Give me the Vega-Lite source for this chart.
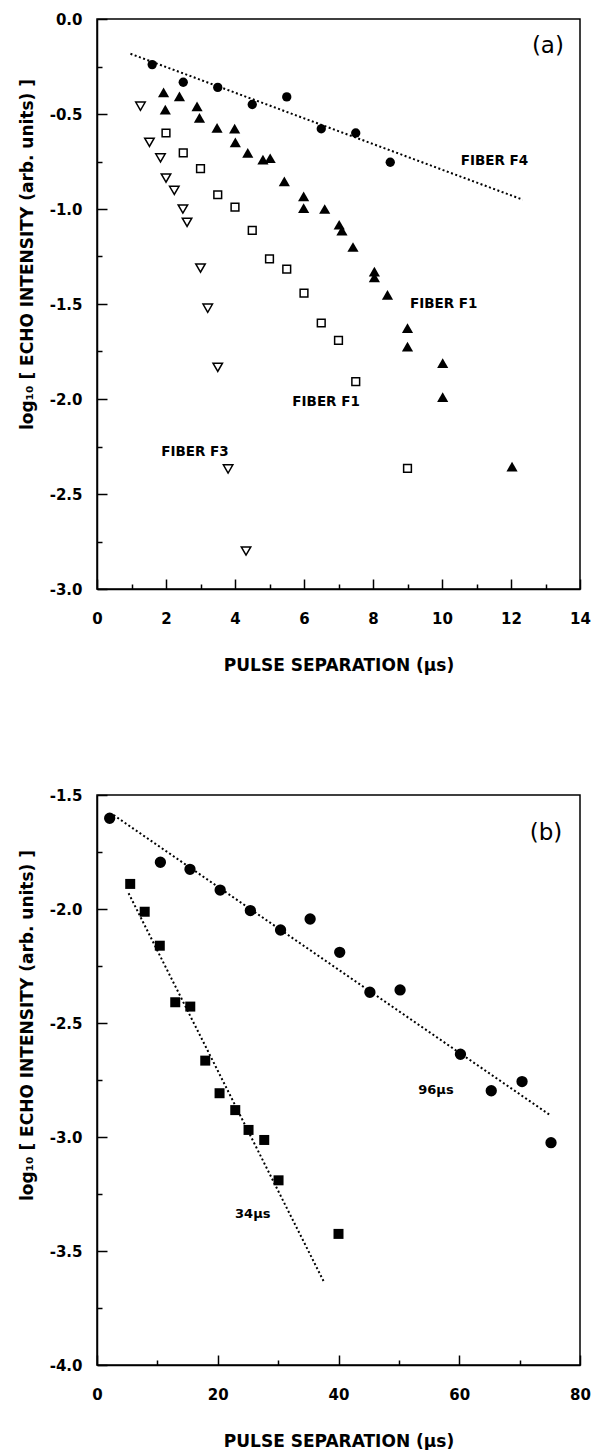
{
  "$schema": "https://vega.github.io/schema/vega-lite/v6.json",
  "padding": {"left": 17, "top": 11, "right": 0, "bottom": 0},
  "spacing": 113,
  "background": "white",
  "config": {
    "view": {"stroke": "black", "strokeWidth": 1.5},
    "axis": {
      "grid": false,
      "domainColor": "black",
      "domainWidth": 1.5,
      "tickColor": "black",
      "tickWidth": 1.5,
      "labelFont": "DejaVu Sans",
      "labelFontWeight": "bold",
      "labelFontSize": 15,
      "labelColor": "black",
      "titleFont": "DejaVu Sans",
      "titleFontWeight": "bold",
      "titleFontSize": 17,
      "titleColor": "black",
      "labelFlush": false,
      "labelOverlap": false,
      "labelBound": false
    },
    "text": {"font": "DejaVu Sans", "color": "black"}
  },
  "datasets": {
    "a": [
      {"series": "F4", "x": 1.6, "y": -0.24},
      {"series": "F4", "x": 2.5, "y": -0.333},
      {"series": "F4", "x": 3.5, "y": -0.36},
      {"series": "F4", "x": 4.5, "y": -0.45},
      {"series": "F4", "x": 5.5, "y": -0.41},
      {"series": "F4", "x": 6.5, "y": -0.578},
      {"series": "F4", "x": 7.5, "y": -0.6},
      {"series": "F4", "x": 8.5, "y": -0.754},
      {"series": "F4fit", "x": 0.97, "y": -0.183},
      {"series": "F4fit", "x": 12.34, "y": -0.951},
      {"series": "F1tri", "x": 1.93, "y": -0.386},
      {"series": "F1tri", "x": 1.98, "y": -0.477},
      {"series": "F1tri", "x": 2.39, "y": -0.407},
      {"series": "F1tri", "x": 2.9, "y": -0.46},
      {"series": "F1tri", "x": 2.97, "y": -0.52},
      {"series": "F1tri", "x": 3.48, "y": -0.573},
      {"series": "F1tri", "x": 3.99, "y": -0.577},
      {"series": "F1tri", "x": 4.01, "y": -0.649},
      {"series": "F1tri", "x": 4.37, "y": -0.705},
      {"series": "F1tri", "x": 4.81, "y": -0.74},
      {"series": "F1tri", "x": 5.02, "y": -0.733},
      {"series": "F1tri", "x": 5.43, "y": -0.855},
      {"series": "F1tri", "x": 5.99, "y": -0.934},
      {"series": "F1tri", "x": 5.99, "y": -0.995},
      {"series": "F1tri", "x": 6.6, "y": -1.0},
      {"series": "F1tri", "x": 7.02, "y": -1.083},
      {"series": "F1tri", "x": 7.1, "y": -1.114},
      {"series": "F1tri", "x": 7.42, "y": -1.2},
      {"series": "F1tri", "x": 8.04, "y": -1.33},
      {"series": "F1tri", "x": 8.04, "y": -1.36},
      {"series": "F1tri", "x": 8.42, "y": -1.452},
      {"series": "F1tri", "x": 9.0, "y": -1.627},
      {"series": "F1tri", "x": 9.0, "y": -1.724},
      {"series": "F1tri", "x": 10.02, "y": -1.811},
      {"series": "F1tri", "x": 10.02, "y": -1.99},
      {"series": "F1tri", "x": 12.03, "y": -2.356},
      {"series": "F1sq", "x": 2.0, "y": -0.6},
      {"series": "F1sq", "x": 2.5, "y": -0.705},
      {"series": "F1sq", "x": 3.0, "y": -0.788},
      {"series": "F1sq", "x": 3.5, "y": -0.925},
      {"series": "F1sq", "x": 4.0, "y": -0.99},
      {"series": "F1sq", "x": 4.5, "y": -1.113},
      {"series": "F1sq", "x": 5.0, "y": -1.262},
      {"series": "F1sq", "x": 5.5, "y": -1.316},
      {"series": "F1sq", "x": 6.0, "y": -1.443},
      {"series": "F1sq", "x": 6.5, "y": -1.6},
      {"series": "F1sq", "x": 7.0, "y": -1.692},
      {"series": "F1sq", "x": 7.5, "y": -1.908},
      {"series": "F1sq", "x": 9.0, "y": -2.365},
      {"series": "F3", "x": 1.26, "y": -0.459},
      {"series": "F3", "x": 1.52, "y": -0.649},
      {"series": "F3", "x": 1.84, "y": -0.731},
      {"series": "F3", "x": 2.0, "y": -0.837},
      {"series": "F3", "x": 2.24, "y": -0.902},
      {"series": "F3", "x": 2.49, "y": -1.0},
      {"series": "F3", "x": 2.61, "y": -1.07},
      {"series": "F3", "x": 3.0, "y": -1.311},
      {"series": "F3", "x": 3.21, "y": -1.522},
      {"series": "F3", "x": 3.5, "y": -1.833},
      {"series": "F3", "x": 3.8, "y": -2.368},
      {"series": "F3", "x": 4.32, "y": -2.8},
      {"series": "label", "x": 11.52, "y": -0.749, "text": "FIBER F4"},
      {"series": "label", "x": 10.05, "y": -1.499, "text": "FIBER F1"},
      {"series": "label", "x": 6.64, "y": -2.014, "text": "FIBER F1"},
      {"series": "label", "x": 2.84, "y": -2.28, "text": "FIBER F3"},
      {"series": "panel", "x": 13.07, "y": -0.143, "text": "(a)"}
    ],
    "b": [
      {"series": "c96", "x": 2.1, "y": -1.602},
      {"series": "c96", "x": 10.5, "y": -1.795},
      {"series": "c96", "x": 15.4, "y": -1.826},
      {"series": "c96", "x": 20.4, "y": -1.917},
      {"series": "c96", "x": 25.4, "y": -2.007},
      {"series": "c96", "x": 30.4, "y": -2.092},
      {"series": "c96", "x": 35.3, "y": -2.044},
      {"series": "c96", "x": 40.2, "y": -2.19},
      {"series": "c96", "x": 45.2, "y": -2.365},
      {"series": "c96", "x": 50.2, "y": -2.355},
      {"series": "c96", "x": 60.2, "y": -2.637},
      {"series": "c96", "x": 65.3, "y": -2.797},
      {"series": "c96", "x": 70.4, "y": -2.757},
      {"series": "c96", "x": 75.2, "y": -3.025},
      {"series": "s34", "x": 5.5, "y": -1.89},
      {"series": "s34", "x": 7.9, "y": -2.012},
      {"series": "s34", "x": 10.4, "y": -2.161},
      {"series": "s34", "x": 12.96, "y": -2.409},
      {"series": "s34", "x": 15.45, "y": -2.428},
      {"series": "s34", "x": 17.93, "y": -2.665},
      {"series": "s34", "x": 20.3, "y": -2.808},
      {"series": "s34", "x": 22.9, "y": -2.882},
      {"series": "s34", "x": 25.1, "y": -2.969},
      {"series": "s34", "x": 27.7, "y": -3.013},
      {"series": "s34", "x": 30.07, "y": -3.19},
      {"series": "s34", "x": 40.0, "y": -3.425},
      {"series": "fit96", "x": 2.75, "y": -1.588},
      {"series": "fit96", "x": 75.05, "y": -2.904},
      {"series": "fit34", "x": 5.23, "y": -1.931},
      {"series": "fit34", "x": 37.52, "y": -3.632},
      {"series": "label", "x": 56.14, "y": -2.794, "text": "96μs"},
      {"series": "label", "x": 25.8, "y": -3.338, "text": "34μs"},
      {"series": "panel", "x": 74.36, "y": -1.668, "text": "(b)"}
    ]
  },
  "vconcat": [
    {
      "width": 483,
      "height": 570,
      "data": {"name": "a"},
      "encoding": {
        "x": {
          "field": "x", "type": "quantitative",
          "scale": {"domain": [0, 14], "nice": false, "zero": false},
          "axis": {
            "title": "PULSE SEPARATION (μs)",
            "values": [0, 1, 2, 3, 4, 5, 6, 7, 8, 9, 10, 11, 12, 13, 14],
            "labelExpr": "datum.value % 2 === 0 ? format(datum.value, 'd') : ''",
            "tickSize": {"condition": {"test": "datum.value % 2 === 0", "value": -10}, "value": -5},
            "labelPadding": 32,
            "titlePadding": 26
          }
        },
        "y": {
          "field": "y", "type": "quantitative",
          "scale": {"domain": [-3, 0], "nice": false, "zero": false},
          "axis": {
            "title": "log₁₀ [ ECHO INTENSITY (arb. units) ]",
            "values": [-3, -2.75, -2.5, -2.25, -2, -1.75, -1.5, -1.25, -1, -0.75, -0.5, -0.25, 0],
            "labelExpr": "abs(datum.value * 2 - round(datum.value * 2)) < 0.01 ? (abs(datum.value) < 0.001 ? '0.0' : '-' + format(abs(datum.value), '.1f')) : ''",
            "tickSize": {"condition": {"test": "abs(datum.value * 2 - round(datum.value * 2)) < 0.01", "value": -10}, "value": -5},
            "labelPadding": 25,
            "titlePadding": 13,
            "titleY": 235
          }
        }
      },
      "layer": [
        {
          "transform": [{"filter": "datum.series === 'F4fit'"}],
          "mark": {"type": "line", "color": "black", "strokeWidth": 2, "strokeDash": [2, 2.5]},
          "encoding": {}
        },
        {
          "transform": [{"filter": "datum.series === 'F4'"}],
          "mark": {"type": "point", "shape": "circle", "filled": true, "color": "black", "opacity": 1, "size": 87}
        },
        {
          "transform": [{"filter": "datum.series === 'F1tri'"}],
          "mark": {"type": "point", "shape": "triangle-up", "filled": true, "color": "black", "opacity": 1, "size": 125}
        },
        {
          "transform": [{"filter": "datum.series === 'F1sq'"}],
          "mark": {"type": "point", "shape": "square", "filled": false, "color": "black", "fill": "white", "fillOpacity": 1, "opacity": 1, "strokeWidth": 1.5, "size": 60}
        },
        {
          "transform": [{"filter": "datum.series === 'F3'"}],
          "mark": {"type": "point", "shape": "triangle-down", "filled": false, "color": "black", "fill": "white", "fillOpacity": 1, "opacity": 1, "strokeWidth": 1.5, "size": 90}
        },
        {
          "transform": [{"filter": "datum.series === 'label'"}],
          "mark": {"type": "text", "font": "DejaVu Sans", "fontWeight": "bold", "fontSize": 13.5, "align": "center", "baseline": "middle"},
          "encoding": {"text": {"field": "text"}}
        },
        {
          "transform": [{"filter": "datum.series === 'panel'"}],
          "mark": {"type": "text", "font": "DejaVu Sans", "fontWeight": "normal", "fontSize": 23, "align": "center", "baseline": "middle"},
          "encoding": {"text": {"field": "text"}}
        }
      ]
    },
    {
      "width": 483,
      "height": 570,
      "data": {"name": "b"},
      "encoding": {
        "x": {
          "field": "x", "type": "quantitative",
          "scale": {"domain": [0, 80], "nice": false, "zero": false},
          "axis": {
            "title": "PULSE SEPARATION (μs)",
            "values": [0, 10, 20, 30, 40, 50, 60, 70, 80],
            "labelExpr": "datum.value % 20 === 0 ? format(datum.value, 'd') : ''",
            "tickSize": {"condition": {"test": "datum.value % 20 === 0", "value": -10}, "value": -5},
            "labelPadding": 32,
            "titlePadding": 26
          }
        },
        "y": {
          "field": "y", "type": "quantitative",
          "scale": {"domain": [-4, -1.5], "nice": false, "zero": false},
          "axis": {
            "title": "log₁₀ [ ECHO INTENSITY (arb. units) ]",
            "values": [-4, -3.75, -3.5, -3.25, -3, -2.75, -2.5, -2.25, -2, -1.75, -1.5],
            "labelExpr": "abs(datum.value * 2 - round(datum.value * 2)) < 0.01 ? '-' + format(abs(datum.value), '.1f') : ''",
            "tickSize": {"condition": {"test": "abs(datum.value * 2 - round(datum.value * 2)) < 0.01", "value": -10}, "value": -5},
            "labelPadding": 25,
            "titlePadding": 13,
            "titleY": 230
          }
        }
      },
      "layer": [
        {
          "transform": [{"filter": "datum.series === 'fit96' || datum.series === 'fit34'"}],
          "mark": {"type": "line", "color": "black", "strokeWidth": 2, "strokeDash": [2, 2.5]},
          "encoding": {"detail": {"field": "series"}}
        },
        {
          "transform": [{"filter": "datum.series === 'c96'"}],
          "mark": {"type": "point", "shape": "circle", "filled": true, "color": "black", "opacity": 1, "size": 128}
        },
        {
          "transform": [{"filter": "datum.series === 's34'"}],
          "mark": {"type": "point", "shape": "square", "filled": true, "color": "black", "opacity": 1, "size": 100}
        },
        {
          "transform": [{"filter": "datum.series === 'label'"}],
          "mark": {"type": "text", "font": "DejaVu Sans", "fontWeight": "bold", "fontSize": 13, "align": "center", "baseline": "middle"},
          "encoding": {"text": {"field": "text"}}
        },
        {
          "transform": [{"filter": "datum.series === 'panel'"}],
          "mark": {"type": "text", "font": "DejaVu Sans", "fontWeight": "normal", "fontSize": 23, "align": "center", "baseline": "middle"},
          "encoding": {"text": {"field": "text"}}
        }
      ]
    }
  ]
}
